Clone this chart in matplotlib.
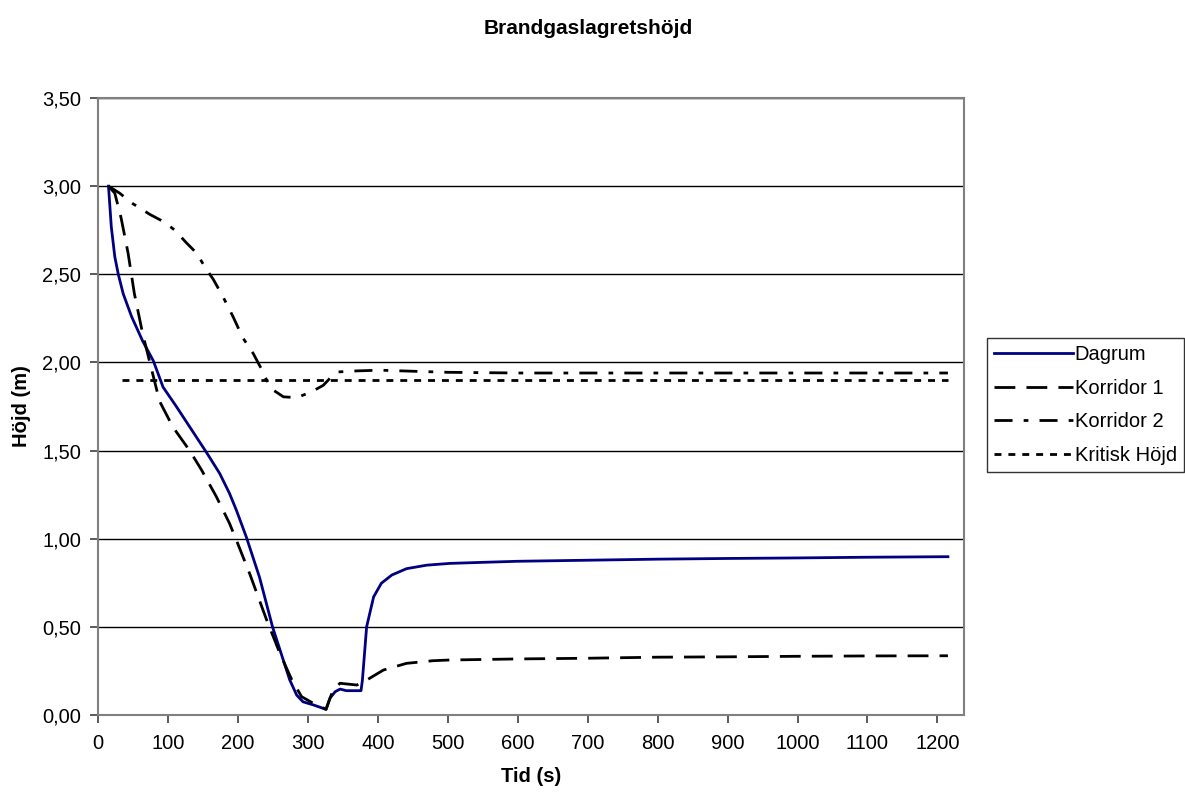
import matplotlib
matplotlib.use("Agg")
import matplotlib.pyplot as plt
from matplotlib.ticker import FuncFormatter, MultipleLocator

plt.rcParams['font.family'] = ['Liberation Sans', 'DejaVu Sans']

# Data
t_dagrum = [15, 19, 24, 29, 36, 48, 64, 79, 93, 112, 131, 155, 174, 188, 198, 212, 231,
            249.5, 265, 274, 284, 293, 308, 326, 331.5, 339, 346, 355, 376, 378, 384, 394,
            405, 420, 441, 470, 503, 550, 600, 700, 800, 900, 1000, 1100, 1215]
h_dagrum = [3.00, 2.77, 2.60, 2.50, 2.39, 2.26, 2.12, 2.01, 1.86, 1.75, 1.635, 1.49, 1.37,
            1.257, 1.16, 1.01, 0.78, 0.50, 0.31, 0.20, 0.113, 0.075, 0.057, 0.032, 0.095,
            0.132, 0.147, 0.138, 0.138, 0.198, 0.50, 0.67, 0.747, 0.794, 0.83, 0.85, 0.86,
            0.866, 0.872, 0.878, 0.884, 0.888, 0.891, 0.895, 0.898]

t_korr1 = [15, 24, 33, 43, 52, 64, 76, 88, 107, 131, 148, 169, 188, 198, 217, 241, 260,
           277, 291, 308, 326, 336, 346, 370, 384, 408, 441, 479, 503, 600, 700, 800, 900,
           1000, 1100, 1215]
h_korr1 = [3.00, 2.96, 2.82, 2.62, 2.39, 2.16, 1.97, 1.78, 1.634, 1.50, 1.39, 1.24, 1.087,
           0.99, 0.80, 0.54, 0.35, 0.20, 0.104, 0.066, 0.032, 0.142, 0.18, 0.17, 0.198,
           0.255, 0.293, 0.308, 0.312, 0.318, 0.322, 0.328, 0.330, 0.333, 0.335, 0.336]

t_korr2 = [15, 31, 50, 74, 93, 110, 126, 141, 153, 165, 179, 193, 207, 222, 234, 241,
           249.5, 265, 284, 305, 322, 334, 343, 370, 403, 450, 500, 600, 800, 1000, 1215]
h_korr2 = [3.00, 2.96, 2.90, 2.84, 2.80, 2.75, 2.68, 2.62, 2.54, 2.47, 2.37, 2.26, 2.14,
           2.05, 1.96, 1.90, 1.846, 1.805, 1.80, 1.833, 1.87, 1.92, 1.946, 1.952, 1.956,
           1.95, 1.944, 1.94, 1.94, 1.94, 1.94]

t_krit = [35, 1215]
h_krit = [1.90, 1.90]

labels = ["Dagrum", "Korridor 1", "Korridor 2", "Kritisk Höjd"]

fig = plt.figure(figsize=(11.85, 7.93), dpi=100)
ax = fig.add_axes([98/1185, 1-715/793, (964-98)/1185, (715-98)/793])

lw = 2.0
ax.plot(t_dagrum, h_dagrum, color='#000080', lw=lw, label=labels[0], zorder=3)
ax.plot(t_korr1, h_korr1, color='black', lw=lw, linestyle=(0, (7.5, 4)), label=labels[1], zorder=3)
ax.plot(t_korr2, h_korr2, color='black', lw=lw, linestyle=(0, (6.5, 4, 1.7, 4)), label=labels[2], zorder=3)
ax.plot(t_krit, h_krit, color='black', lw=lw, linestyle=(0, (2.5, 2.5)), label=labels[3], zorder=3)

ax.set_xlim(0, 1238)
ax.set_ylim(0, 3.5)
ax.yaxis.set_major_locator(MultipleLocator(0.5))
ax.yaxis.set_major_formatter(FuncFormatter(lambda v, p: f"{v:.2f}".replace('.', ',')))
ax.set_xticks(range(0, 1201, 100))

ax.grid(axis='y', color='black', lw=1.0, zorder=1)
for s in ax.spines.values():
    s.set_color('#808080')
    s.set_linewidth(1.5)
ax.tick_params(axis='both', direction='out', length=6, width=1.2, colors='black',
               labelsize=14.5, color='#404040')
ax.tick_params(axis='x', pad=8)
ax.tick_params(axis='y', pad=6)

ax.set_xlabel("Tid (s)", fontsize=14.5, fontweight='bold', labelpad=10)
ax.set_ylabel("Höjd (m)", fontsize=14.5, fontweight='bold', labelpad=8)
fig.text(588/1185, 1-28/793, "Brandgaslagretshöjd", ha='center', va='center',
         fontsize=15, fontweight='bold')

leg = ax.legend(loc='upper left', bbox_to_anchor=(987/1185, 1-338/793),
                bbox_transform=fig.transFigure, borderaxespad=0, frameon=True,
                fancybox=False, edgecolor='black', fontsize=14.5, handlelength=3.9,
                handletextpad=0.1, labelspacing=0.72, borderpad=0.35)
leg.get_frame().set_linewidth(1.0)

fig.savefig("out.png", dpi=100, facecolor='white')
